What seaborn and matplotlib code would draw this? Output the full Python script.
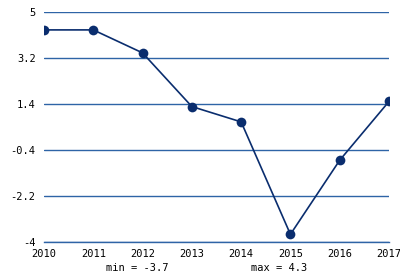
import matplotlib
matplotlib.use("Agg")
import matplotlib.pyplot as plt
import seaborn as sns
import pandas as pd

years = [2010, 2011, 2012, 2013, 2014, 2015, 2016, 2017]
values = [4.3, 4.3, 3.4, 1.3, 0.7, -3.7, -0.8, 1.5]
yticks = [-4, -2.2, -0.4, 1.4, 3.2, 5]
ytick_labels = ["-4", "-2.2", "-0.4", "1.4", "3.2", "5"]

sns.set_style("white")
plt.rcParams['font.family'] = ['DejaVu Sans Mono', 'DejaVu Sans']
plt.rcParams['text.color'] = 'black'
plt.rcParams['xtick.color'] = 'black'
plt.rcParams['ytick.color'] = 'black'

df = pd.DataFrame({"year": years, "value": values})

fig = plt.figure(figsize=(4, 2.8), dpi=100)
ax = fig.add_axes([0.11, 0.1357, 0.8625, 0.8214])

line_color = "#0a2d6e"
grid_color = "#2e64a6"

for y in yticks:
    ax.axhline(y, color=grid_color, lw=1, zorder=1)

sns.lineplot(data=df, x="year", y="value", ax=ax, color=line_color, lw=1.2,
             marker="o", markersize=7, markeredgewidth=0, zorder=3)

ax.set_xlim(2010, 2017)
ax.set_ylim(-4, 5)
ax.set_yticks(yticks)
ax.set_yticklabels(ytick_labels)
ax.set_xticks(years)
ax.set_xticklabels([str(y) for y in years])
ax.set_xlabel("")
ax.set_ylabel("")
for s in ["top", "right", "left"]:
    ax.spines[s].set_visible(False)
ax.spines["bottom"].set_color(grid_color)
ax.spines["bottom"].set_linewidth(1)
ax.tick_params(axis="x", length=4, color=grid_color, labelcolor="black", width=1, pad=1, labelsize=7.5)
ax.tick_params(axis="y", length=0, pad=6, labelcolor="black", labelsize=7.5)

fig.text(137/400, 1 - 268/280, "min = -3.7", ha="center", va="center", fontsize=7.5, color="black")
fig.text(279/400, 1 - 268/280, "max = 4.3", ha="center", va="center", fontsize=7.5, color="black")

fig.savefig("out.png", dpi=100)
